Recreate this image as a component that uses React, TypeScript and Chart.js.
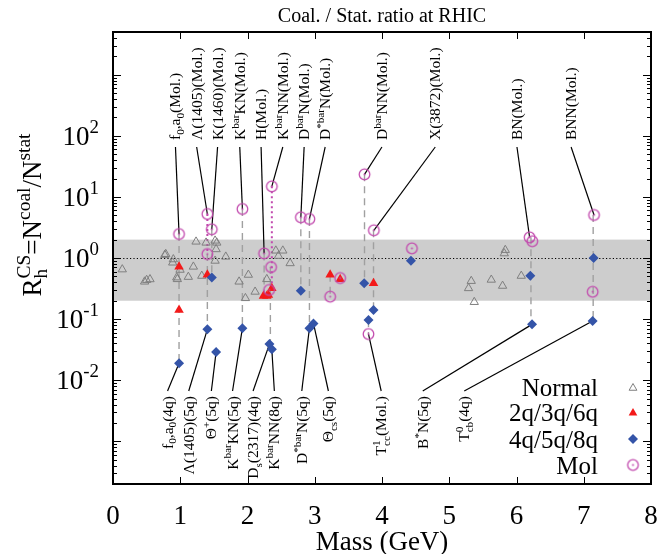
import React, { useEffect, useRef } from 'react';
import { Chart, registerables } from 'chart.js';

Chart.register(...registerables);

const FONT = '"Liberation Serif", "Times New Roman", serif';

// ---------- text ----------
const TITLE = 'Coal. / Stat. ratio at RHIC';
const X_TITLE = 'Mass (GeV)';
const Y_TITLE = 'R_{h}^{CS}=N^{coal}/N^{stat}';
const SERIES_NAMES = ['Normal', '2q/3q/6q', '4q/5q/8q', 'Mol'];

// ---------- axes ----------
const X_MIN = 0;
const X_MAX = 8;
const Y_MIN = 2e-4;
const Y_MAX = 5000;
const X_TICKS = [0, 1, 2, 3, 4, 5, 6, 7, 8];
const Y_TICKS = [0.01, 0.1, 1, 10, 100];
const Y_TICK_LABELS = ['10^{-2}', '10^{-1}', '10^{0}', '10^{1}', '10^{2}'];
const BAND = [0.2, 2];
const REF_LINE = 1;

// ---------- data: [mass GeV, ratio] ----------
const NORMAL: [number, number][] = [
  [0.138, 0.65], [0.50, 0.436], [0.55, 0.448], [0.47, 0.41], [0.784, 1.16], [0.77, 1.12],
  [0.897, 0.95], [0.888, 0.84], [0.948, 0.48], [0.957, 0.45], [0.997, 0.64], [1.12, 0.49],
  [1.195, 0.72], [1.235, 1.85], [1.32, 0.51], [1.384, 1.78], [1.518, 1.92], [1.543, 1.78],
  [1.533, 1.39], [1.518, 0.90], [1.677, 1.05], [1.875, 0.41], [2.013, 0.53], [1.969, 0.22],
  [2.113, 0.28], [2.287, 0.45], [2.421, 1.32], [2.525, 1.32], [2.46, 1.08], [2.634, 0.82],
  [5.833, 1.35], [5.818, 1.19], [5.327, 0.42], [5.287, 0.32], [5.625, 0.44], [5.793, 0.35],
  [6.071, 0.51], [5.372, 0.19],
];
const MULTI_Q: [number, number][] = [
  [0.982, 0.72], [0.982, 0.141], [1.403, 0.53], [2.237, 0.239], [2.287, 0.239], [2.311, 0.248],
  [2.362, 0.32], [3.229, 0.53], [3.378, 0.45], [3.874, 0.385],
];
const EXOTIC_Q: [number, number][] = [
  [0.982, 0.0189], [1.403, 0.068], [1.469, 0.48], [1.533, 0.029], [1.924, 0.071], [2.326, 0.039],
  [2.362, 0.032], [2.793, 0.29], [2.921, 0.071], [2.981, 0.085], [3.735, 0.385], [3.799, 0.097],
  [3.874, 0.141], [4.43, 0.90], [6.205, 0.51], [6.231, 0.082], [7.147, 1.0], [7.132, 0.093],
];
const MOLECULE: [number, number][] = [
  [0.982, 2.47], [1.403, 5.25], [1.403, 1.16], [1.469, 2.95], [1.924, 6.34], [2.247, 1.19],
  [2.362, 14.9], [2.351, 0.71], [2.321, 0.30], [2.793, 4.64], [2.921, 4.35], [3.229, 0.233],
  [3.378, 0.47], [3.74, 23.4], [3.879, 2.84], [3.799, 0.057], [4.445, 1.44], [6.195, 2.18],
  [6.235, 1.88], [7.153, 5.06], [7.132, 0.28],
];

// vertical links between models of one hadron: [mass, upper, lower]
const DASHED_LINKS: [number, number, number][] = [
  [0.982, 2.47, 0.0189], [1.403, 1.16, 0.068], [1.469, 2.95, 0.48], [1.924, 6.34, 0.071],
  [2.247, 1.19, 0.239], [2.34, 0.71, 0.034], [2.793, 4.64, 0.29], [2.921, 4.35, 0.071],
  [3.229, 0.53, 0.233], [3.74, 23.4, 0.385], [3.874, 2.84, 0.141], [3.799, 0.097, 0.057],
  [6.215, 2.18, 0.082], [7.14, 5.06, 0.093],
];
const DOTTED_LINKS: [number, number, number][] = [
  [1.403, 5.25, 1.16], [2.362, 14.9, 0.30],
];

// annotations: text, anchor mass, target point
const TOP_LABELS = [
  'f_{0},a_{0}(Mol.)', 'Λ(1405)(Mol.)', 'K(1460)(Mol.)', 'K^{bar}KN(Mol.)', 'H(Mol.)',
  'K^{bar}NN(Mol.)', 'D^{bar}N(Mol.)', 'D^{*bar}N(Mol.)', 'D^{bar}NN(Mol.)', 'X(3872)(Mol.)',
  'BN(Mol.)', 'BNN(Mol.)',
];
const TOP_LABEL_AT = [0.929, 1.244, 1.555, 1.885, 2.202, 2.525, 2.842, 3.155, 3.999, 4.792, 6.007, 6.812];
const TOP_TARGETS: [number, number][] = [
  [0.982, 2.47], [1.403, 5.25], [1.469, 2.95], [1.924, 6.34], [2.247, 1.19], [2.362, 14.9],
  [2.793, 4.64], [2.921, 4.35], [3.74, 23.4], [3.879, 2.84], [6.195, 2.18], [7.153, 5.06],
];
const BOTTOM_LABELS = [
  'f_{0},a_{0}(4q)', 'Λ(1405)(5q)', 'Θ^{+}(5q)', 'K^{bar}KN(5q)', 'D_{s}(2317)(4q)',
  'K^{bar}NN(8q)', 'D^{*bar}N(5q)', 'Θ_{cs}(5q)', 'T^{1}_{cc}(Mol.)', 'B^{*}N(5q)', 'T^{0}_{cb}(4q)',
];
const BOTTOM_LABEL_AT = [0.811, 1.126, 1.463, 1.778, 2.083, 2.399, 2.807, 3.203, 3.988, 4.606, 5.223];
const BOTTOM_TARGETS: [number, number][] = [
  [0.982, 0.0189], [1.403, 0.068], [1.533, 0.029], [1.924, 0.071], [2.326, 0.039], [2.362, 0.032],
  [2.921, 0.071], [2.981, 0.085], [3.799, 0.057], [6.231, 0.082], [7.132, 0.093],
];

// ---------- styles ----------
const C_NORMAL = '#7f7f7f';
const C_RED = '#f31a1a';
const C_BLUE = '#3454a8';
const C_MOL = '#c24aae';
const C_BAND = '#cdcdcd';
const C_LINK = '#a0a0a0';

type Seg = { main?: string; sup?: string; sub?: string };

function parseRich(s: string): Seg[] {
  const out: Seg[] = [];
  let i = 0;
  while (i < s.length) {
    const c = s[i];
    if ((c === '^' || c === '_') && s[i + 1] === '{') {
      const end = s.indexOf('}', i + 2);
      const content = s.slice(i + 2, end);
      const key = c === '^' ? 'sup' : 'sub';
      const prev = out[out.length - 1] as any;
      if (prev && prev.main === undefined && prev[key] === undefined) prev[key] = content;
      else out.push({ [key]: content } as Seg);
      i = end + 1;
    } else {
      const prev = out[out.length - 1];
      if (prev && prev.main !== undefined) prev.main += c;
      else out.push({ main: c });
      i++;
    }
  }
  return out;
}

function drawRich(
  ctx: CanvasRenderingContext2D, text: string, x: number, y: number, size: number,
  align: 'left' | 'right' | 'center', rotate: boolean, vy: number, scriptRatio = 0.72, supRaise = 0.4,
) {
  const segs = parseRich(text);
  const ss = size * scriptRatio;
  ctx.save();
  ctx.translate(x, y);
  if (rotate) ctx.rotate(-Math.PI / 2);
  ctx.textBaseline = 'alphabetic';
  ctx.textAlign = 'left';
  const widths = segs.map((s) => {
    if (s.main !== undefined) {
      ctx.font = `${size}px ${FONT}`;
      return ctx.measureText(s.main).width;
    }
    ctx.font = `${ss}px ${FONT}`;
    const a = s.sup ? ctx.measureText(s.sup).width : 0;
    const b = s.sub ? ctx.measureText(s.sub).width : 0;
    return Math.max(a, b);
  });
  const total = widths.reduce((p, q) => p + q, 0);
  let cx = align === 'left' ? 0 : align === 'right' ? -total : -total / 2;
  segs.forEach((s, k) => {
    if (s.main !== undefined) {
      ctx.font = `${size}px ${FONT}`;
      ctx.fillText(s.main, cx, vy);
    } else {
      ctx.font = `${ss}px ${FONT}`;
      if (s.sup) ctx.fillText(s.sup, cx, vy - size * supRaise);
      if (s.sub) ctx.fillText(s.sub, cx, vy + size * 0.24);
    }
    cx += widths[k];
  });
  ctx.restore();
}

function makeMolPoint(): HTMLCanvasElement {
  const c = document.createElement('canvas');
  c.width = 15;
  c.height = 15;
  const g = c.getContext('2d')!;
  g.strokeStyle = C_MOL;
  g.fillStyle = C_MOL;
  g.lineWidth = 1.3;
  g.beginPath();
  g.arc(7.5, 7.5, 5.3, 0, Math.PI * 2);
  g.stroke();
  g.beginPath();
  g.arc(7.5, 7.5, 1, 0, Math.PI * 2);
  g.fill();
  return c;
}

const TOP_TEXT_Y = 140; // bottom end of upper annotations
const BOTTOM_TEXT_Y = 396; // top end of lower annotations

function drawTriangle(ctx: CanvasRenderingContext2D, x: number, y: number, r: number) {
  ctx.beginPath();
  ctx.moveTo(x, y - r);
  ctx.lineTo(x + r * 0.866, y + r * 0.5);
  ctx.lineTo(x - r * 0.866, y + r * 0.5);
  ctx.closePath();
}

export default function App() {
  const ref = useRef<HTMLCanvasElement>(null);
  useEffect(() => {
    const canvas = ref.current!;
    const molImg = makeMolPoint();
    const pts = (a: [number, number][]) => a.map(([x, y]) => ({ x, y }));

    const deco = {
      id: 'deco',
      beforeDatasetsDraw(chart: any) {
        const { ctx, chartArea: a, scales } = chart;
        const xs = scales.x;
        const ys = scales.y;
        ctx.save();
        const y1 = ys.getPixelForValue(BAND[1]);
        const y0 = ys.getPixelForValue(BAND[0]);
        ctx.fillStyle = C_BAND;
        ctx.fillRect(a.left, y1, a.right - a.left, y0 - y1);
        const yr = Math.round(ys.getPixelForValue(REF_LINE)) + 0.5;
        ctx.strokeStyle = '#000';
        ctx.lineWidth = 1;
        ctx.setLineDash([1.2, 2.2]);
        ctx.beginPath();
        ctx.moveTo(a.left, yr);
        ctx.lineTo(a.right, yr);
        ctx.stroke();
        ctx.setLineDash([]);
        ctx.strokeStyle = '#000';
        ctx.lineWidth = 1.2;
        TOP_LABELS.forEach((_, i) => {
          const [m, v] = TOP_TARGETS[i];
          ctx.beginPath();
          ctx.moveTo(xs.getPixelForValue(TOP_LABEL_AT[i]), TOP_TEXT_Y + 7);
          ctx.lineTo(xs.getPixelForValue(m), ys.getPixelForValue(v));
          ctx.stroke();
        });
        BOTTOM_LABELS.forEach((_, i) => {
          const [m, v] = BOTTOM_TARGETS[i];
          ctx.beginPath();
          ctx.moveTo(xs.getPixelForValue(BOTTOM_LABEL_AT[i]), BOTTOM_TEXT_Y - 5);
          ctx.lineTo(xs.getPixelForValue(m), ys.getPixelForValue(v));
          ctx.stroke();
        });
        ctx.restore();
      },
      afterDatasetsDraw(chart: any) {
        const { ctx, chartArea: a, scales } = chart;
        const xs = scales.x;
        const ys = scales.y;
        ctx.save();
        // frame
        ctx.strokeStyle = '#000';
        ctx.lineWidth = 2;
        ctx.strokeRect(a.left, a.top, a.right - a.left, a.bottom - a.top);
        // y ticks
        ctx.lineWidth = 1;
        for (let e = -4; e <= 4; e++) {
          for (let k = 1; k <= 9; k++) {
            const v = k * Math.pow(10, e);
            if (v <= Y_MIN || v >= Y_MAX) continue;
            const py = Math.round(ys.getPixelForValue(v)) + 0.5;
            const len = k === 1 ? 8 : 4;
            ctx.beginPath();
            ctx.moveTo(a.left, py);
            ctx.lineTo(a.left + len, py);
            ctx.moveTo(a.right, py);
            ctx.lineTo(a.right - len, py);
            ctx.stroke();
          }
        }
        // x ticks
        X_TICKS.forEach((v) => {
          if (v <= X_MIN || v >= X_MAX) return;
          const px = Math.round(xs.getPixelForValue(v)) + 0.5;
          ctx.beginPath();
          ctx.moveTo(px, a.bottom);
          ctx.lineTo(px, a.bottom - 7);
          ctx.moveTo(px, a.top);
          ctx.lineTo(px, a.top + 7);
          ctx.stroke();
        });
        ctx.fillStyle = '#000';
        // x tick labels
        ctx.font = `27px ${FONT}`;
        ctx.textAlign = 'center';
        ctx.textBaseline = 'alphabetic';
        X_TICKS.forEach((v) => {
          ctx.fillText(String(v), xs.getPixelForValue(v), 524);
        });
        // y tick labels
        Y_TICKS.forEach((v, i) => {
          drawRich(ctx, Y_TICK_LABELS[i], a.left - 14, ys.getPixelForValue(v), 27, 'right', false, 9, 0.7, 0.45);
        });
        // titles
        ctx.font = `27px ${FONT}`;
        ctx.textAlign = 'center';
        ctx.fillText(X_TITLE, (a.left + a.right) / 2, 550);
        ctx.font = `20px ${FONT}`;
        ctx.fillText(TITLE, (a.left + a.right) / 2, 22);
        drawRich(ctx, Y_TITLE, 32, 215, 27, 'center', true, 9, 0.72);
        // annotations
        TOP_LABELS.forEach((t, i) => {
          drawRich(ctx, t, xs.getPixelForValue(TOP_LABEL_AT[i]), TOP_TEXT_Y, 15.5, 'left', true, 5);
        });
        BOTTOM_LABELS.forEach((t, i) => {
          drawRich(ctx, t, xs.getPixelForValue(BOTTOM_LABEL_AT[i]), BOTTOM_TEXT_Y, 15.5, 'right', true, 5);
        });
        // legend
        const rows = [387, 412, 439, 465];
        ctx.font = `25px ${FONT}`;
        ctx.textAlign = 'right';
        SERIES_NAMES.forEach((n, i) => {
          ctx.fillStyle = '#000';
          ctx.fillText(n, 598, rows[i] + 8.5);
        });
        const sx = 633;
        ctx.lineWidth = 1;
        ctx.strokeStyle = C_NORMAL;
        drawTriangle(ctx, sx, rows[0] + 1, 4.5);
        ctx.stroke();
        ctx.fillStyle = C_RED;
        drawTriangle(ctx, sx, rows[1] + 1, 5);
        ctx.fill();
        ctx.fillStyle = C_BLUE;
        ctx.beginPath();
        ctx.moveTo(sx, rows[2] - 5);
        ctx.lineTo(sx + 5, rows[2]);
        ctx.lineTo(sx, rows[2] + 5);
        ctx.lineTo(sx - 5, rows[2]);
        ctx.closePath();
        ctx.fill();
        ctx.drawImage(molImg, sx - 7.5, rows[3] - 7.5);
        ctx.restore();
      },
    };

    const linkSets = [
      ...DASHED_LINKS.map(([m, hi, lo]) => ({
        data: [{ x: m, y: hi }, { x: m, y: lo }],
        showLine: true,
        borderColor: C_LINK,
        borderWidth: 1.4,
        borderDash: [7, 5],
        pointRadius: 0,
        order: 10,
      })),
      ...DOTTED_LINKS.map(([m, hi, lo]) => ({
        data: [{ x: m, y: hi }, { x: m, y: lo }],
        showLine: true,
        borderColor: C_MOL,
        borderWidth: 2,
        borderDash: [2, 3],
        pointRadius: 0,
        order: 9,
      })),
    ];

    const chart = new Chart(canvas, {
      type: 'scatter',
      data: {
        datasets: [
          ...linkSets,
          {
            label: SERIES_NAMES[0], data: pts(NORMAL), pointStyle: 'triangle', pointRadius: 4.8,
            borderColor: C_NORMAL, backgroundColor: 'rgba(0,0,0,0)', borderWidth: 1, order: 4,
          },
          {
            label: SERIES_NAMES[1], data: pts(MULTI_Q), pointStyle: 'triangle', pointRadius: 5.5,
            borderColor: C_RED, backgroundColor: C_RED, borderWidth: 0, order: 3,
          },
          {
            label: SERIES_NAMES[2], data: pts(EXOTIC_Q), pointStyle: 'rectRot', pointRadius: 5,
            borderColor: C_BLUE, backgroundColor: C_BLUE, borderWidth: 0, order: 2,
          },
          {
            label: SERIES_NAMES[3], data: pts(MOLECULE), pointStyle: molImg as any, pointRadius: 5,
            borderColor: C_MOL, backgroundColor: C_MOL, order: 1,
          },
        ] as any,
      },
      options: {
        responsive: false,
        animation: false,
        events: [],
        layout: { padding: { left: 113, right: 8, top: 32, bottom: 70 } },
        scales: {
          x: { type: 'linear', display: false, min: X_MIN, max: X_MAX },
          y: { type: 'logarithmic', display: false, min: Y_MIN, max: Y_MAX },
        },
        plugins: { legend: { display: false }, tooltip: { enabled: false } },
      },
      plugins: [deco],
    });
    return () => chart.destroy();
  }, []);

  return (
    <div style={{ position: 'absolute', left: 0, top: 0, width: 659, height: 554, background: '#fff' }}>
      <canvas ref={ref} width={659} height={554} style={{ display: 'block' }} />
    </div>
  );
}
